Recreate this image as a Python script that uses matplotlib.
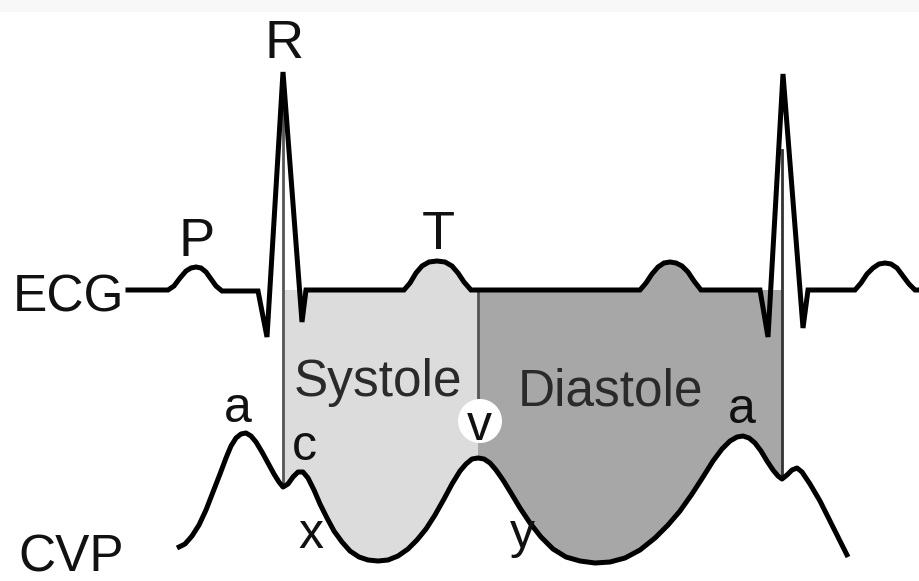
import matplotlib
matplotlib.use("Agg")
import matplotlib.pyplot as plt
from matplotlib.patches import Polygon, Circle

plt.rcParams["font.family"] = ["Liberation Sans", "DejaVu Sans"]

# waveforms, in picture pixels (y grows downward)
ecg_x = [128, 168, 174, 180, 186, 191, 196, 201, 206, 211, 216, 222, 258,
         267, 283, 302, 306,
         404, 410, 416, 422, 429, 437, 445, 452, 458, 464, 471, 640, 646,
         652, 658, 664, 670, 676, 682, 688, 694, 701, 760, 768, 783, 803,
         808, 855, 861, 867, 873, 879, 885, 891, 897, 903, 909, 915, 920]
ecg_y = [290, 290, 286, 278, 271, 268, 267, 268, 272, 279, 286, 291, 291,
         337, 72, 322, 290,
         290, 283, 273, 266, 262, 261, 262, 266, 273, 282, 290, 290, 283,
         274, 267, 263, 262, 263, 266, 272, 281, 290, 290, 337, 74, 328,
         290, 290, 283, 274, 268, 264, 263, 264, 268, 276, 284, 290, 290]

cvp_x = [177, 185, 192, 199, 206, 213, 220, 226, 231, 236, 241, 246, 251,
         256, 262, 268, 274, 279, 283, 288, 293, 298, 303, 308, 314, 320,
         327, 334, 342, 350, 359, 368, 378, 388, 398, 408, 417, 426, 435,
         444, 452, 460, 466, 472, 478, 484, 490, 496, 503, 511, 520, 530,
         541, 553, 566, 580, 595, 610, 625, 640, 655, 668, 680, 692, 703,
         713, 722, 730, 737, 743, 749, 755, 761, 767, 773, 778, 782, 787,
         792, 797, 802, 810, 820, 832, 848]
cvp_y = [548, 544, 536, 525, 510, 492, 474, 458, 446, 438, 434, 433, 436,
         442, 452, 463, 474, 482, 487, 484, 477, 472, 472, 478, 490, 504,
         518, 531, 542, 551, 557, 560, 561, 560, 556, 549, 540, 529, 515,
         499, 484, 471, 464, 459, 458, 459, 463, 470, 480, 493, 508, 523,
         537, 549, 557, 561, 563, 562, 558, 550, 538, 525, 511, 494, 477,
         461, 449, 441, 437, 436, 438, 443, 451, 461, 470, 476, 479, 475,
         470, 468, 472, 484, 501, 525, 557]

baseline = 290
systole_x = (283, 478)
diastole_x = (478, 782)

fig = plt.figure(figsize=(9.2, 5.81), dpi=100)
ax = fig.add_axes([0, 0, 1, 1])
ax.set_xlim(0, 920)
ax.set_ylim(581, 0)
ax.axis("off")

ax.axhspan(0, 12, color="#f8f8f8", lw=0, zorder=0)


def phase_polygon(x0, x1):
    top = [(x0, baseline)]
    top += [(x, y) for x, y in zip(ecg_x, ecg_y) if x0 < x < x1 and y <= baseline]
    top += [(x1, baseline)]
    bottom = [(x, y) for x, y in zip(cvp_x, cvp_y) if x0 <= x <= x1][::-1]
    return top + bottom


ax.add_patch(Polygon(phase_polygon(*systole_x), closed=True,
                     facecolor="#dcdcdc", edgecolor="none", zorder=1))
ax.add_patch(Polygon(phase_polygon(*diastole_x), closed=True,
                     facecolor="#a7a7a7", edgecolor="none", zorder=1))

# phase boundary lines
ax.plot([283, 283], [95, 487], color="#555555", lw=2.0, zorder=2)
ax.plot([478, 478], [290, 400], color="#555555", lw=2.0, zorder=2)
ax.plot([782, 782], [150, 478], color="#333333", lw=2.0, zorder=2)

ax.plot(ecg_x, ecg_y, color="black", lw=3.6, solid_joinstyle="miter", zorder=3)
ax.plot(cvp_x, cvp_y, color="black", lw=3.6, solid_joinstyle="round",
        solid_capstyle="butt", zorder=3)

ax.add_patch(Circle((480, 421), 22, facecolor="white", edgecolor="none", zorder=4))

big = dict(fontsize=37, color="#111111", zorder=5)
ax.text(13, 311, "ECG", ha="left", va="baseline", **big)
ax.text(18, 571, "CVP", ha="left", va="baseline", **big)

wave = dict(fontsize=39, color="#111111", ha="center", va="baseline", zorder=5)
ax.text(284, 58, "R", **wave)
ax.text(197, 256, "P", **wave)
ax.text(438, 249, "T", **wave)

phase = dict(fontsize=37, color="#2a2a2a", ha="center", va="baseline", zorder=5)
ax.text(378, 396, "Systole", **phase)
ax.text(611, 405, "Diastole", **phase)

small = dict(fontsize=36, color="#111111", ha="center", va="baseline", zorder=5)
ax.text(238, 422, "a", **small)
ax.text(304, 460, "c", **small)
ax.text(311, 548, "x", **small)
ax.text(479, 440, "v", **small)
ax.text(522, 548, "y", **small)
ax.text(742, 423, "a", **small)

fig.savefig("out.png", dpi=100)
